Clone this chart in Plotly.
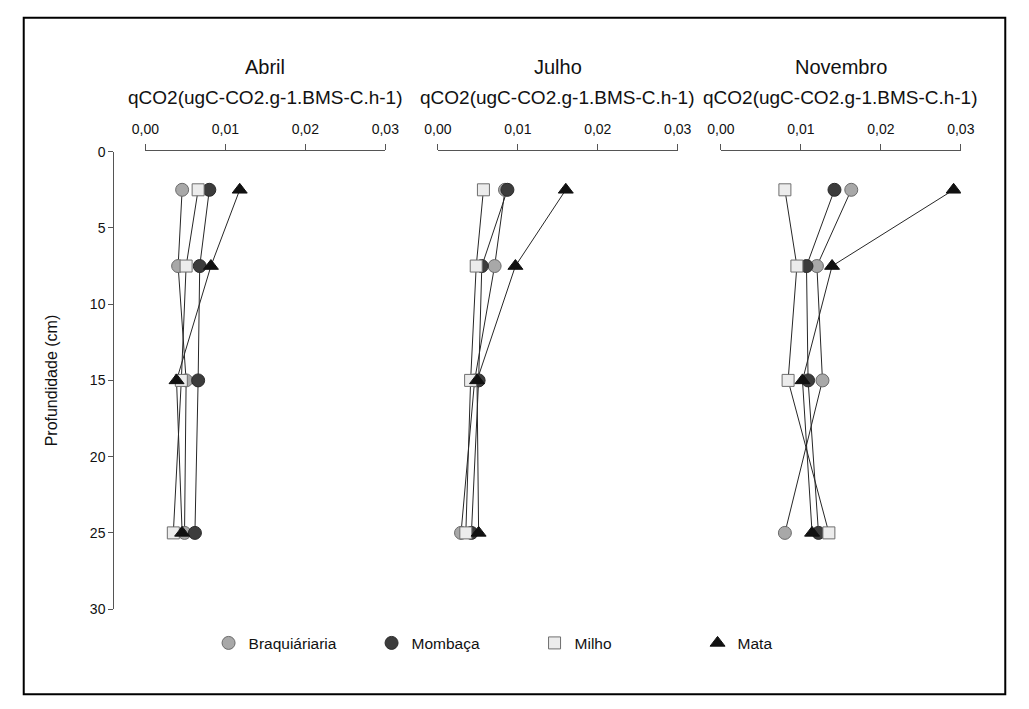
import plotly.graph_objects as go

# Soil depth of each sampling layer (cm)
depth = [2.5, 7.5, 15, 25]

months = ["Abril", "Julho", "Novembro"]
series_names = ["Braquiáriaria", "Mombaça", "Milho", "Mata"]

# qCO2 per month and land use, ordered by depth
abril_braq = [0.0046, 0.0041, 0.0051, 0.0049]
abril_momb = [0.0080, 0.0068, 0.0066, 0.0062]
abril_milho = [0.0066, 0.0051, 0.0045, 0.0035]
abril_mata = [0.0118, 0.0082, 0.0039, 0.0046]

julho_braq = [0.0084, 0.0071, 0.0046, 0.0029]
julho_momb = [0.0087, 0.0055, 0.0051, 0.0042]
julho_milho = [0.0057, 0.0048, 0.0041, 0.0035]
julho_mata = [0.0160, 0.0097, 0.0049, 0.0051]

nov_braq = [0.0163, 0.0120, 0.0127, 0.0080]
nov_momb = [0.0142, 0.0107, 0.0109, 0.0122]
nov_milho = [0.0080, 0.0095, 0.0084, 0.0135]
nov_mata = [0.0291, 0.0139, 0.0102, 0.0114]

panel_data = [
    [abril_braq, abril_momb, abril_milho, abril_mata],
    [julho_braq, julho_momb, julho_milho, julho_mata],
    [nov_braq, nov_momb, nov_milho, nov_mata],
]

x_ticks = [0.00, 0.01, 0.02, 0.03]
y_ticks = [0, 5, 10, 15, 20, 25, 30]

W, H = 1029, 709
FONT = "Liberation Sans, Arial, sans-serif"

marker_styles = {
    "Braquiáriaria": dict(symbol="circle", size=13, color="#a8a8a8",
                          line=dict(color="#6a6a6a", width=1)),
    "Mombaça": dict(symbol="circle", size=13, color="#3c3c3c",
                    line=dict(color="#2a2a2a", width=1)),
    "Milho": dict(symbol="square", size=12, color="#ececec",
                  line=dict(color="#6e6e6e", width=1)),
    "Mata": dict(symbol="triangle-up", size=13, color="#111111",
                 line=dict(color="#111111", width=1)),
}

# Pixel extent of each panel's horizontal axis (0 to 0.03)
panel_px = [(135, 381.7), (435.7, 682.3), (726.7, 973.3)]
y_top_px, y_bot_px = 147, 615
xaxis_line_px = 145

fig = go.Figure()

axis_ids = ["x", "x2", "x3"]
for p, (vals_list, ax) in enumerate(zip(panel_data, axis_ids)):
    # connecting lines first, markers on top
    for name, vals in zip(series_names, vals_list):
        fig.add_trace(go.Scatter(
            x=vals, y=depth, xaxis=ax, yaxis="y", mode="lines",
            line=dict(color="#262626", width=1), showlegend=False,
            hoverinfo="skip"))
    for name, vals in zip(series_names, vals_list):
        fig.add_trace(go.Scatter(
            x=vals, y=depth, xaxis=ax, yaxis="y", mode="markers",
            marker=marker_styles[name], name=name, legendgroup=name,
            showlegend=(p == 0)))

tick_font = dict(family=FONT, size=14, color="#111111")

layout_axes = {}
for i, (ax, (x0, x1)) in enumerate(zip(axis_ids, panel_px)):
    key = "xaxis" if i == 0 else f"xaxis{i + 1}"
    layout_axes[key] = dict(
        domain=[x0 / W, x1 / W], range=[0, 0.03], side="top",
        anchor="free", position=1 - xaxis_line_px / H,
        tickvals=x_ticks, tickformat=".2f",
        showline=True, linecolor="#555555", linewidth=1,
        ticks="outside", ticklen=6, tickcolor="#555555",
        ticklabelstandoff=4,
        showgrid=False, zeroline=False, tickfont=tick_font,
        fixedrange=True,
    )

layout_axes["yaxis"] = dict(
    domain=[1 - y_bot_px / H, 1 - y_top_px / H], range=[30, 0],
    anchor="free", position=102 / W,
    tickvals=y_ticks, showline=True, linecolor="#555555", linewidth=1,
    ticks="outside", ticklen=5, tickcolor="#555555",
    showgrid=False, zeroline=False, tickfont=tick_font, fixedrange=True,
)

annotations = []
for (x0, x1), month in zip(panel_px, months):
    cx = (x0 + x1) / 2 / W
    annotations.append(dict(
        x=cx, y=1 - 60 / H, xref="paper", yref="paper", text=month,
        showarrow=False, xanchor="center", yanchor="middle",
        font=dict(family=FONT, size=20, color="#111111")))
    annotations.append(dict(
        x=cx, y=1 - 92 / H, xref="paper", yref="paper",
        text="qCO2(ugC-CO2.g-1.BMS-C.h-1)",
        showarrow=False, xanchor="center", yanchor="middle",
        font=dict(family=FONT, size=19, color="#111111")))

annotations.append(dict(
    x=38 / W, y=1 - 381 / H, xref="paper", yref="paper", text="Profundidade (cm)",
    textangle=-90, showarrow=False, xanchor="center", yanchor="middle",
    font=dict(family=FONT, size=16, color="#111111")))

fig.update_layout(
    width=W, height=H,
    margin=dict(l=0, r=0, t=0, b=0),
    paper_bgcolor="white", plot_bgcolor="white",
    separators=",.",
    annotations=annotations,
    shapes=[dict(type="rect", xref="paper", yref="paper",
                 x0=10 / W, x1=1019 / W, y0=1 - 702 / H, y1=1 - 10 / H,
                 line=dict(color="black", width=2), fillcolor="rgba(0,0,0,0)")],
    legend=dict(
        orientation="h", x=200 / W, y=1 - 650 / H, xanchor="left", yanchor="middle",
        font=dict(family=FONT, size=15.5, color="#111111"),
        entrywidth=118, entrywidthmode="pixels", bgcolor="rgba(0,0,0,0)",
        itemclick=False, itemdoubleclick=False,
    ),
    showlegend=True,
    **layout_axes,
)

fig.write_html("out.html")
